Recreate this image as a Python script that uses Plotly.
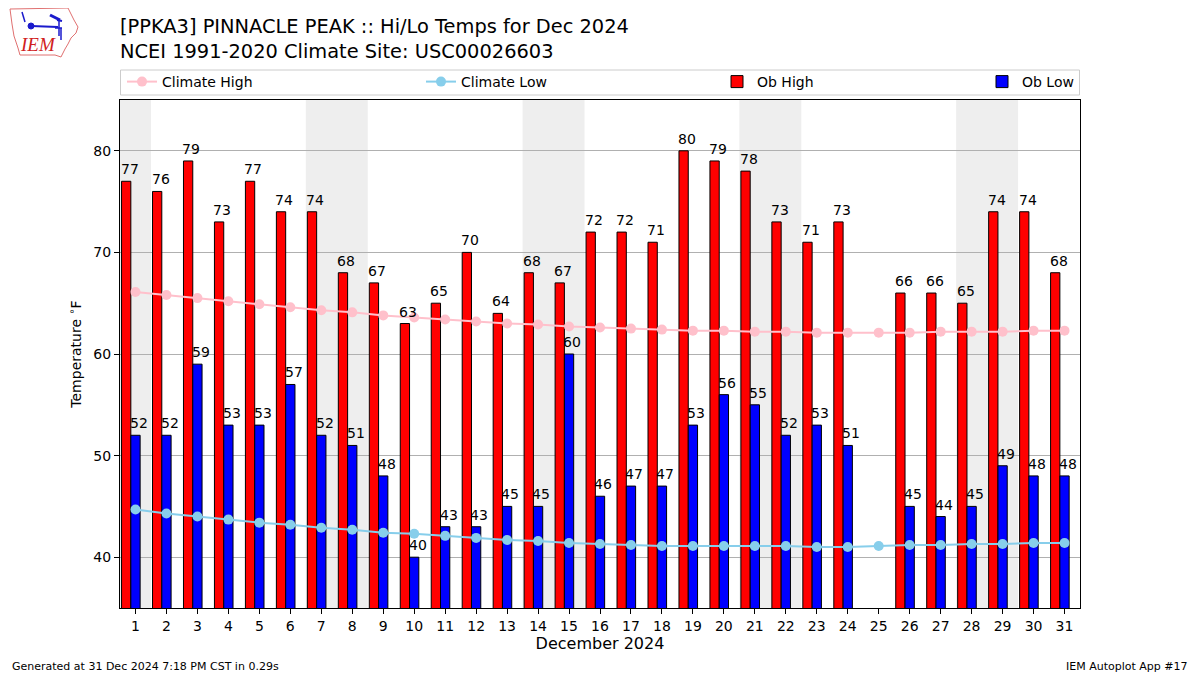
import plotly.graph_objects as go

# ---------------- data ----------------
days = list(range(1, 32))
ob_high = [77, 76, 79, 73, 77, 74, 74, 68, 67, 63, 65, 70, 64, 68, 67, 72,
           72, 71, 80, 79, 78, 73, 71, 73, None, 66, 66, 65, 74, 74, 68]
ob_low = [52, 52, 59, 53, 53, 57, 52, 51, 48, 40, 43, 43, 45, 45, 60, 46,
          47, 47, 53, 56, 55, 52, 53, 51, None, 45, 44, 45, 49, 48, 48]
climate_high = [66.1, 65.8, 65.5, 65.2, 64.9, 64.6, 64.3, 64.1, 63.8, 63.6,
                63.4, 63.2, 63.0, 62.9, 62.7, 62.6, 62.5, 62.4, 62.3, 62.3,
                62.2, 62.2, 62.1, 62.1, 62.1, 62.1, 62.2, 62.2, 62.2, 62.3, 62.3]
climate_low = [44.7, 44.3, 44.0, 43.7, 43.4, 43.2, 42.9, 42.7, 42.4, 42.3,
               42.1, 41.9, 41.7, 41.6, 41.4, 41.3, 41.2, 41.1, 41.1, 41.1,
               41.1, 41.1, 41.0, 41.0, 41.1, 41.2, 41.2, 41.3, 41.3, 41.4, 41.4]
weekend_spans = [(0.5, 1.5), (6.5, 8.5), (13.5, 15.5), (20.5, 22.5), (27.5, 29.5)]
y_ticks = [40, 50, 60, 70, 80]

title_line1 = "[PPKA3] PINNACLE PEAK :: Hi/Lo Temps for Dec 2024"
title_line2 = "NCEI 1991-2020 Climate Site: USC00026603"
footer_left = "Generated at 31 Dec 2024 7:18 PM CST in 0.29s"
footer_right = "IEM Autoplot App #17"

# ---------------- geometry helpers ----------------
# the page body has an 8px margin, so the figure is shrunk by 8px and all
# page coordinates are shifted accordingly
OFF = 8
W, H = 1200 - OFF, 675 - OFF
L, R, T, B = 120 - OFF, 1080 - OFF, 100 - OFF, 608 - OFF


def X(px):  # page px -> paper
    return (px - OFF - L) / (R - L)


def Y(py):
    return (B - (py - OFF)) / (B - T)


FONT = "DejaVu Sans"
BAR_W = 0.3

fig = go.Figure()

fig.add_trace(go.Bar(
    x=days, y=ob_high, width=BAR_W, offset=-0.45, name="Ob High",
    marker=dict(color="#ff0000", line=dict(color="black", width=1)),
    legend="legend3", hoverinfo="x+y",
))
fig.add_trace(go.Bar(
    x=days, y=ob_low, width=BAR_W, offset=-0.15, name="Ob Low",
    marker=dict(color="#0000ff", line=dict(color="black", width=1)),
    legend="legend4", hoverinfo="x+y",
))
fig.add_trace(go.Scatter(
    x=days, y=climate_high, mode="lines+markers", name="Climate High",
    line=dict(color="#ffc0cb", width=2), marker=dict(color="#ffc0cb", size=10),
    legend="legend",
))
fig.add_trace(go.Scatter(
    x=days, y=climate_low, mode="lines+markers", name="Climate Low",
    line=dict(color="#87ceeb", width=2), marker=dict(color="#87ceeb", size=10),
    legend="legend2",
))

shapes = []
for a, b in weekend_spans:
    shapes.append(dict(type="rect", xref="x", yref="paper", x0=a, x1=b, y0=0, y1=1,
                       fillcolor="#eeeeee", line=dict(width=0), layer="below"))

# legend frame
shapes.append(dict(type="rect", xref="paper", yref="paper",
                   x0=X(120.5), x1=X(1079.5), y0=Y(95), y1=Y(70),
                   fillcolor="white", line=dict(color="#cccccc", width=1), layer="below"))

# simplified IEM logo
iowa = [(10, 9), (68, 8), (71, 14), (74, 20), (78, 27), (76, 33), (71, 38),
        (68, 44), (65, 49), (63, 53), (61, 57), (55, 55), (20, 55), (18, 48),
        (14, 36), (12, 24), (10, 9)]
path = "M " + " L ".join(f"{X(px):.5f},{Y(py):.5f}" for px, py in iowa) + " Z"
shapes.append(dict(type="path", xref="paper", yref="paper", path=path,
                   line=dict(color="#e07070", width=1), fillcolor="rgba(0,0,0,0)"))
blue = "#1a1acc"
for (x0, y0, x1, y1, w) in [(22, 12, 25, 22, 1.5), (31, 26, 58, 27, 2),
                            (50, 15, 60, 20, 3), (57, 20, 62, 21, 2),
                            (59, 21, 59, 36, 1.5), (61, 28, 61, 40, 1.5),
                            (55, 28, 62, 28, 1.5)]:
    shapes.append(dict(type="line", xref="paper", yref="paper",
                       x0=X(x0), y0=Y(y0), x1=X(x1), y1=Y(y1),
                       line=dict(color=blue, width=w)))
shapes.append(dict(type="circle", xref="paper", yref="paper",
                   x0=X(28), x1=X(34), y0=Y(29), y1=Y(23),
                   fillcolor=blue, line=dict(color=blue, width=1)))

annotations = []
# value labels above bars (left aligned at bar left edge)
for d, v in zip(days, ob_high):
    if v is not None:
        annotations.append(dict(x=d - 0.45, y=v, xref="x", yref="y", text=str(v),
                                showarrow=False, xanchor="left", yanchor="bottom",
                                xshift=-3, yshift=2, font=dict(family=FONT, size=14, color="black")))
for d, v in zip(days, ob_low):
    if v is not None:
        annotations.append(dict(x=d - 0.15, y=v, xref="x", yref="y", text=str(v),
                                showarrow=False, xanchor="left", yanchor="bottom",
                                xshift=-3, yshift=2, font=dict(family=FONT, size=14, color="black")))

annotations += [
    dict(x=X(120), y=Y(39.5), xref="paper", yref="paper",
         text=title_line1 + "<br>" + title_line2, showarrow=False, align="left",
         xanchor="left", yanchor="middle", xshift=-2,
         font=dict(family=FONT, size=19.4, color="black")),
    dict(x=X(12), y=Y(666), xref="paper", yref="paper", text=footer_left, showarrow=False,
         xanchor="left", yanchor="middle", xshift=-2, font=dict(family=FONT, size=11, color="black")),
    dict(x=X(1188), y=Y(666), xref="paper", yref="paper", text=footer_right, showarrow=False,
         xanchor="right", yanchor="middle", xshift=2, font=dict(family=FONT, size=11, color="black")),
    dict(x=X(38), y=Y(45), xref="paper", yref="paper", text="<i>IEM</i>", showarrow=False,
         xanchor="center", yanchor="middle", font=dict(family="Liberation Serif", size=19, color="#d02020")),
]

leg_common = dict(orientation="h", yanchor="middle", y=Y(82), xanchor="left",
                  bgcolor="rgba(0,0,0,0)", borderwidth=0,
                  font=dict(family=FONT, size=14, color="black"))
fig.update_layout(
    width=W, height=H,
    margin=dict(l=L, r=W - R, t=T, b=H - B),
    paper_bgcolor="white", plot_bgcolor="white",
    barmode="overlay",
    showlegend=True,
    legend=dict(x=X(122), **leg_common),
    legend2=dict(x=X(421), **leg_common),
    legend3=dict(x=X(717), **leg_common),
    legend4=dict(x=X(982), **leg_common),
    shapes=shapes,
    annotations=annotations,
    font=dict(family=FONT, size=14, color="black"),
    xaxis=dict(range=[0.5, 31.5], tickvals=days, ticktext=[str(d) for d in days],
               showgrid=False, zeroline=False, ticks="outside", ticklen=5, tickcolor="black",
               showline=True, linecolor="black", linewidth=1, mirror=True,
               tickfont=dict(family=FONT, size=14),
               title=dict(text="December 2024", font=dict(family=FONT, size=16), standoff=5)),
    yaxis=dict(range=[35, 85], tickvals=y_ticks, showgrid=True, gridcolor="#b0b0b0", gridwidth=1,
               zeroline=False, ticks="outside", ticklen=5, tickcolor="black",
               showline=True, linecolor="black", linewidth=1, mirror=True,
               tickfont=dict(family=FONT, size=14),
               title=dict(text="Temperature <sup>∘</sup>F", font=dict(family=FONT, size=14), standoff=8)),
)

fig.write_html("out.html")
